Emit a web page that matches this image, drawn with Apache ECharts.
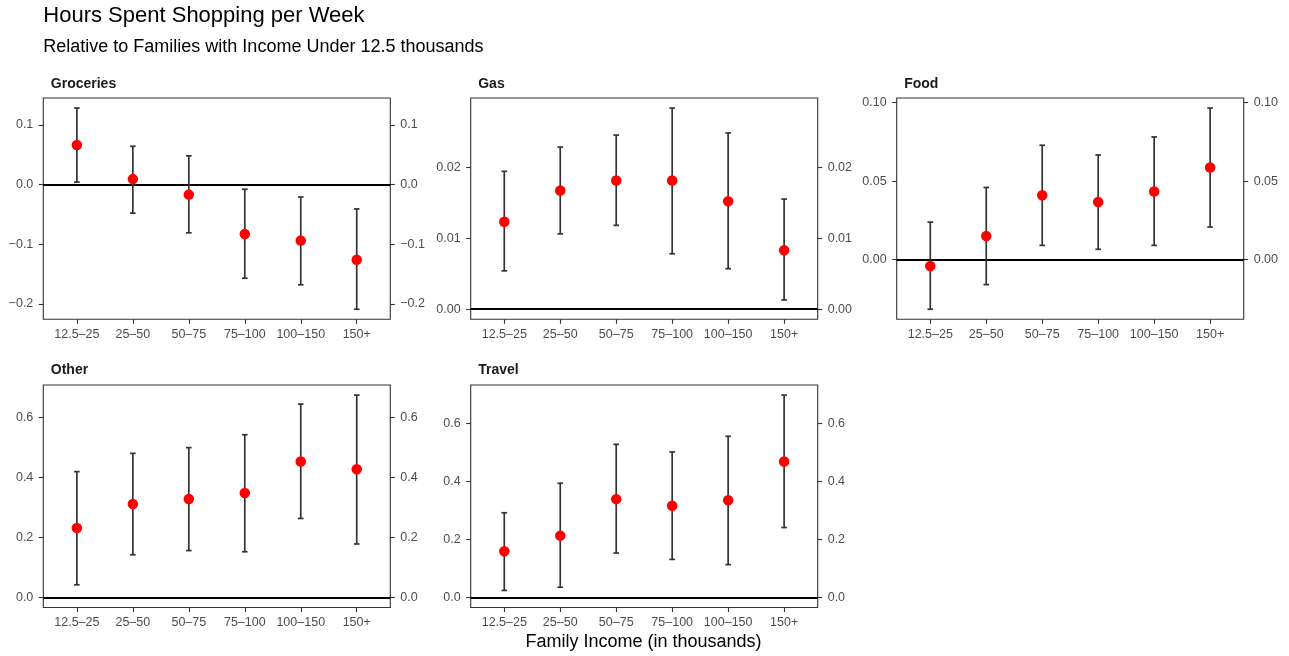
<!DOCTYPE html>
<html><head><meta charset="utf-8">
<script src="https://cdn.jsdelivr.net/npm/echarts@6/dist/echarts.min.js"></script>
<style>html,body{margin:0;padding:0;background:#fff}#c{width:1289px;height:656px}</style>
</head><body><div id="c"></div>
<script>
// ---- data ----
const categories = ['12.5\u201325', '25\u201350', '50\u201375', '75\u2013100', '100\u2013150', '150+'];

const groceriesEst = [0.066, 0.009, -0.017, -0.083, -0.094, -0.126];
const groceriesLo  = [0.004, -0.048, -0.081, -0.157, -0.168, -0.209];
const groceriesHi  = [0.128, 0.064, 0.048, -0.008, -0.021, -0.041];
const groceriesTicks = [-0.2, -0.1, 0, 0.1];
const groceriesTickLabels = ['\u22120.2', '\u22120.1', '0.0', '0.1'];

const gasEst = [0.0123, 0.0167, 0.0181, 0.0181, 0.0152, 0.0083];
const gasLo  = [0.0054, 0.0106, 0.0118, 0.0078, 0.0057, 0.0013];
const gasHi  = [0.0194, 0.0228, 0.0245, 0.0283, 0.0248, 0.0155];
const gasTicks = [0, 0.01, 0.02];
const gasTickLabels = ['0.00', '0.01', '0.02'];

const foodEst = [-0.004, 0.015, 0.041, 0.0367, 0.0434, 0.0587];
const foodLo  = [-0.0316, -0.0159, 0.0091, 0.0066, 0.0091, 0.0208];
const foodHi  = [0.0239, 0.046, 0.0729, 0.0667, 0.0782, 0.0966];
const foodTicks = [0, 0.05, 0.10];
const foodTickLabels = ['0.00', '0.05', '0.10'];

const otherEst = [0.231, 0.311, 0.328, 0.348, 0.453, 0.427];
const otherLo  = [0.042, 0.142, 0.156, 0.152, 0.263, 0.178];
const otherHi  = [0.419, 0.480, 0.499, 0.542, 0.644, 0.674];
const otherTicks = [0, 0.2, 0.4, 0.6];
const otherTickLabels = ['0.0', '0.2', '0.4', '0.6'];

const travelEst = [0.159, 0.213, 0.339, 0.316, 0.335, 0.469];
const travelLo  = [0.024, 0.035, 0.153, 0.131, 0.113, 0.241];
const travelHi  = [0.292, 0.394, 0.528, 0.502, 0.556, 0.698];
const travelTicks = [0, 0.2, 0.4, 0.6];
const travelTickLabels = ['0.0', '0.2', '0.4', '0.6'];

const panelNames = ['Groceries', 'Gas', 'Food', 'Other', 'Travel'];
const titleText = 'Hours Spent Shopping per Week';
const subtitleText = 'Relative to Families with Income Under 12.5 thousands';
const xTitleText = 'Family Income (in thousands)';

// ---- build ----
const panels = [
  {est: groceriesEst, lo: groceriesLo, hi: groceriesHi, ticks: groceriesTicks, labels: groceriesTickLabels},
  {est: gasEst, lo: gasLo, hi: gasHi, ticks: gasTicks, labels: gasTickLabels},
  {est: foodEst, lo: foodLo, hi: foodHi, ticks: foodTicks, labels: foodTickLabels},
  {est: otherEst, lo: otherLo, hi: otherHi, ticks: otherTicks, labels: otherTickLabels},
  {est: travelEst, lo: travelLo, hi: travelHi, ticks: travelTicks, labels: travelTickLabels}
];
const colLeft = [43.3, 470.7, 896.7];
const rowTop = [98, 385];
const rowH = [221.3, 222.5];
const panelW = 347;

const FONT = 'Liberation Sans';
const grids = [], xAxes = [], yAxes = [], series = [], graphics = [];
const catIdx = categories.map((c, i) => i);

panels.forEach((p, k) => {
  const col = k % 3, row = Math.floor(k / 3);
  grids.push({left: colLeft[col], top: rowTop[row], width: panelW, height: rowH[row],
    show: true, borderColor: '#333', borderWidth: 1.1, backgroundColor: '#fff', containLabel: false});
  xAxes.push({type: 'value', gridIndex: k, position: 'bottom', min: -0.6, max: 5.6,
    splitLine: {show: false}, axisLine: {show: false, onZero: false},
    axisTick: {show: true, customValues: catIdx, length: 4.5, lineStyle: {color: '#333', width: 1.1}},
    axisLabel: {customValues: catIdx, formatter: v => categories[Math.round(v)],
      color: '#4d4d4d', fontSize: 12.5, fontFamily: FONT, margin: 9}});
  const lo = Math.min(0, ...p.lo), hi = Math.max(0, ...p.hi);
  const pad = 0.05 * (hi - lo);
  const fmt = v => {
    for (let i = 0; i < p.ticks.length; i++) if (Math.abs(p.ticks[i] - v) < 1e-9) return p.labels[i];
    return '';
  };
  ['left', 'right'].forEach(pos => {
    yAxes.push({type: 'value', gridIndex: k, position: pos, min: lo - pad, max: hi + pad,
      splitLine: {show: false}, axisLine: {show: false, onZero: false},
      axisTick: {show: true, customValues: p.ticks, length: 4.5, lineStyle: {color: '#333', width: 1.1}},
      axisLabel: {customValues: p.ticks, formatter: fmt, color: '#4d4d4d', fontSize: 12.5,
        fontFamily: FONT, margin: 10}});
  });
  series.push({
    type: 'custom', xAxisIndex: k, yAxisIndex: 2 * k, z: 2,
    data: p.est.map((e, i) => [i, p.lo[i], p.hi[i]]),
    encode: {x: 0, y: [1, 2]},
    renderItem: function (params, api) {
      const x = api.value(0);
      const t = api.coord([x, api.value(2)]);
      const b = api.coord([x, api.value(1)]);
      const hw = 2.8;
      const st = {stroke: '#333', lineWidth: 1.7};
      return {type: 'group', children: [
        {type: 'line', shape: {x1: t[0], y1: t[1], x2: b[0], y2: b[1]}, style: st},
        {type: 'line', shape: {x1: t[0] - hw, y1: t[1], x2: t[0] + hw, y2: t[1]}, style: st},
        {type: 'line', shape: {x1: b[0] - hw, y1: b[1], x2: b[0] + hw, y2: b[1]}, style: st}
      ]};
    }
  });
  series.push({
    type: 'scatter', xAxisIndex: k, yAxisIndex: 2 * k, z: 3,
    symbol: 'circle', symbolSize: 10.5, itemStyle: {color: '#ff0000', opacity: 1},
    data: p.est.map((e, i) => [i, e]),
    markLine: {silent: true, z: 1, symbol: ['none', 'none'], label: {show: false},
      lineStyle: {color: '#000', width: 1.8, type: 'solid'}, emphasis: {disabled: true},
      data: [{yAxis: 0}]}
  });
  graphics.push({type: 'text', x: colLeft[col] + 7.5, y: row === 0 ? 83.8 : 370.3,
    style: {text: panelNames[k], fill: '#1a1a1a', font: 'bold 14px "' + FONT + '"',
      align: 'left', verticalAlign: 'middle'}});
});

graphics.push({type: 'text', x: 43.3, y: 16.2,
  style: {text: titleText, fill: '#000', font: '22px "' + FONT + '"', align: 'left', verticalAlign: 'middle'}});
graphics.push({type: 'text', x: 43.3, y: 47.5,
  style: {text: subtitleText, fill: '#000', font: '18px "' + FONT + '"', align: 'left', verticalAlign: 'middle'}});
graphics.push({type: 'text', x: 643.5, y: 642.5,
  style: {text: xTitleText, fill: '#000', font: '18px "' + FONT + '"', align: 'center', verticalAlign: 'middle'}});

const chart = echarts.init(document.getElementById('c'), null, {renderer: 'canvas'});
chart.setOption({
  animation: false,
  backgroundColor: '#fff',
  grid: grids, xAxis: xAxes, yAxis: yAxes, series: series,
  graphic: graphics
});
</script>
</body></html>
